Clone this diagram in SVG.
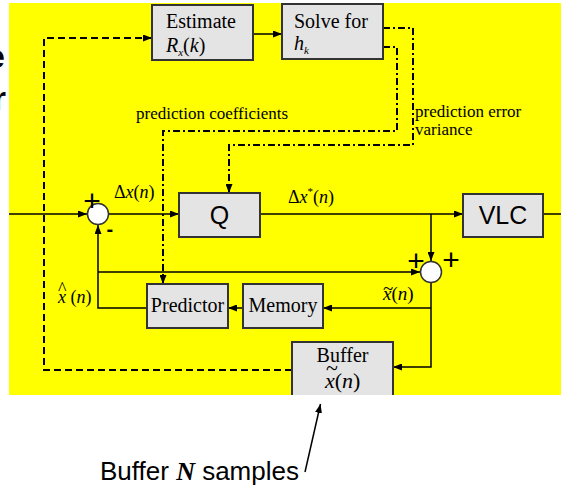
<svg xmlns="http://www.w3.org/2000/svg" width="561" height="486" viewBox="0 0 561 486">
  <style>
    .box { fill: #e4e4e4; stroke: #333; stroke-width: 2; }
    .sum { fill: #fff; stroke: #333; stroke-width: 1.5; }
    .wire { fill: none; stroke: #000; stroke-width: 1.5; }
    .dash { fill: none; stroke: #000; stroke-width: 2; stroke-dasharray: 7 4; }
    .dashdot { fill: none; stroke: #000; stroke-width: 2; stroke-dasharray: 7 3 2 3; }
    .serif { font-family: "Liberation Serif", "Times New Roman", serif; fill: #000; }
    .sans { font-family: "Liberation Sans", Arial, sans-serif; fill: #000; }
    .lbl { font-size: 20px; }
    .note { font-size: 17px; }
    .sym { font-size: 18px; }
    .it { font-style: italic; }
    .sign { font-family: "Liberation Sans", Arial, sans-serif; font-size: 30px; fill: #000; }
  </style>
  <defs>
    <marker id="arrow" markerWidth="9" markerHeight="7" refX="9" refY="3.5" orient="auto" markerUnits="userSpaceOnUse">
      <path d="M0,0 L9,3.5 L0,7 z" fill="#000"/>
    </marker>
    <clipPath id="panel">
      <rect x="0" y="0" width="561" height="395"/>
    </clipPath>
  </defs>

  <!-- page background and clipped heading letters -->
  <rect x="0" y="0" width="561" height="486" fill="#fff"/>
  <text x="5" y="68" text-anchor="end" class="sans" font-size="34" font-weight="bold" fill="#222">e</text>
  <text x="6" y="110" text-anchor="end" class="sans" font-size="34" font-weight="bold" fill="#444">r</text>

  <!-- yellow panel -->
  <rect x="9" y="3" width="552" height="392" fill="#ffff00"/>

  <!-- connectors -->
  <g id="connectors">
    <path class="wire" d="M9,214 H87" marker-end="url(#arrow)"/>
    <path class="wire" d="M108.5,214 H179" marker-end="url(#arrow)"/>
    <path class="wire" d="M260,214 H463" marker-end="url(#arrow)"/>
    <path class="wire" d="M543,214 H561"/>
    <path class="wire" d="M431,214 V261" marker-end="url(#arrow)"/>
    <path class="wire" d="M98,272 H420" marker-end="url(#arrow)"/>
    <path class="wire" d="M147,308 H98 V225" marker-end="url(#arrow)"/>
    <path class="wire" d="M243,308 H228" marker-end="url(#arrow)"/>
    <path class="wire" d="M431,283 V367 H393" marker-end="url(#arrow)"/>
    <path class="wire" d="M431,308 H323" marker-end="url(#arrow)"/>
    <path class="wire" d="M253,34 H282" marker-end="url(#arrow)"/>
    <path class="dash" d="M292,370 H44 V38 H152" marker-end="url(#arrow)"/>
    <path class="dashdot" d="M383,28 H413 V145 H229 V193" marker-end="url(#arrow)"/>
    <path class="dashdot" d="M383,47 H397 V131 H163 V284" marker-end="url(#arrow)"/>
    <path class="wire" d="M305,472 L320.5,404" marker-end="url(#arrow)"/>
  </g>

  <!-- blocks -->
  <g id="estimate">
    <rect class="box" x="152" y="5" width="101" height="55"/>
    <text x="166" y="28" class="serif lbl">Estimate</text>
    <text x="166" y="52" class="serif lbl"><tspan class="it">R</tspan><tspan class="it" font-size="11" dy="4">x</tspan><tspan dy="-4">(</tspan><tspan class="it">k</tspan>)</text>
  </g>
  <g id="solve">
    <rect class="box" x="282" y="4" width="101" height="55"/>
    <text x="294" y="28" class="serif lbl">Solve for</text>
    <text x="294" y="50" class="serif lbl"><tspan class="it">h</tspan><tspan class="it" font-size="11" dy="4">k</tspan></text>
  </g>
  <g id="quantizer">
    <rect class="box" x="179" y="193" width="81" height="44"/>
    <text x="219.5" y="224" text-anchor="middle" class="sans" font-size="25">Q</text>
  </g>
  <g id="vlc">
    <rect class="box" x="463" y="194" width="80" height="43"/>
    <text x="503" y="224" text-anchor="middle" class="sans" font-size="25">VLC</text>
  </g>
  <g id="predictor">
    <rect class="box" x="147" y="284" width="81" height="44"/>
    <text x="187.5" y="312" text-anchor="middle" class="serif lbl">Predictor</text>
  </g>
  <g id="memory">
    <rect class="box" x="243" y="284" width="80" height="44"/>
    <text x="283" y="312" text-anchor="middle" class="serif lbl">Memory</text>
  </g>
  <g id="buffer" clip-path="url(#panel)">
    <rect x="292" y="342" width="101" height="60" fill="#e4e4e4"/>
    <path d="M292,396 V342 H393 V396" fill="none" stroke="#333" stroke-width="2"/>
    <text x="342.5" y="362" text-anchor="middle" class="serif lbl">Buffer</text>
    <!-- tilded x(n): accent and symbol in one text run -->
    <text class="serif" font-size="22"><tspan x="326" y="375">~</tspan><tspan x="325" y="388" class="it">x</tspan>(<tspan class="it">n</tspan>)</text>
  </g>

  <!-- summing junctions -->
  <g id="sum1">
    <circle class="sum" cx="98" cy="214" r="10.5"/>
    <text x="92" y="210.5" text-anchor="middle" class="sign">+</text>
    <text x="106.5" y="235.5" class="sans" font-size="20" font-weight="bold">-</text>
  </g>
  <g id="sum2">
    <circle class="sum" cx="431" cy="272" r="10.5"/>
    <text x="416" y="270.5" text-anchor="middle" class="sign">+</text>
    <text x="451" y="269.5" text-anchor="middle" class="sign">+</text>
  </g>

  <!-- signal labels -->
  <g id="labels">
    <text x="114" y="198" class="serif sym">Δ<tspan class="it">x</tspan>(<tspan class="it">n</tspan>)</text>
    <text x="288" y="203" class="serif sym">Δ<tspan class="it">x</tspan><tspan font-size="11" dy="-8">*</tspan><tspan dy="8">(</tspan><tspan class="it">n</tspan>)</text>
    <text class="serif sym"><tspan x="58" y="294.5">^</tspan><tspan x="58" y="303" class="it">x</tspan> (<tspan class="it">n</tspan>)</text>
    <text class="serif" font-size="19"><tspan x="383" y="295">~</tspan><tspan x="383" y="300" class="it">x</tspan>(<tspan class="it">n</tspan>)</text>
    <text x="136" y="119" class="serif note">prediction coefficients</text>
    <text x="415" y="117" class="serif note">prediction error</text>
    <text x="415" y="135" class="serif note">variance</text>
  </g>

  <!-- caption -->
  <text x="100" y="480" class="sans" font-size="26">Buffer <tspan font-family="Liberation Serif, serif" font-style="italic" font-weight="bold">N</tspan> samples</text>
</svg>
